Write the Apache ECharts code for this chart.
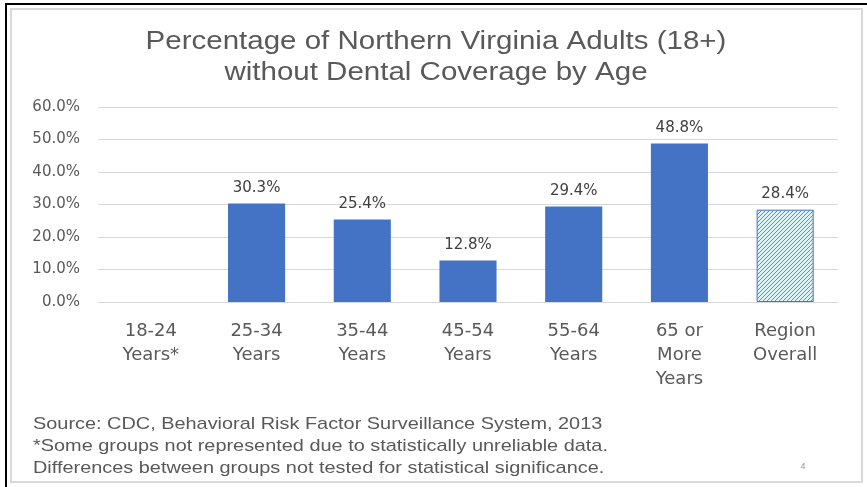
<!DOCTYPE html>
<html><head><meta charset="utf-8">
<script src="https://cdn.jsdelivr.net/npm/echarts@6/dist/echarts.min.js"></script>
<style>html,body{margin:0;padding:0;background:#fff;}#c{width:867px;height:487px;}</style>
</head><body><div id="c"></div>
<script>
const categories = ['18-24\nYears*', '25-34\nYears', '35-44\nYears', '45-54\nYears', '55-64\nYears', '65 or\nMore\nYears', 'Region\nOverall'];
const values = [null, 30.3, 25.4, 12.8, 29.4, 48.8, 28.4];
const hatchedIndex = 6;
const yTicks = [0, 10, 20, 30, 40, 50, 60];
const titleLines = ['Percentage of Northern Virginia Adults (18+)', 'without Dental Coverage by Age'];
const footnotes = ['Source: CDC, Behavioral Risk Factor Surveillance System, 2013', '*Some groups not represented due to statistically unreliable data.', 'Differences between groups not tested for statistical significance.'];

function hatch() {
  const c = document.createElement('canvas');
  c.width = 4; c.height = 4;
  const g = c.getContext('2d');
  g.fillStyle = '#dcf3f5'; g.fillRect(0, 0, 4, 4);
  g.strokeStyle = '#62808f'; g.lineWidth = 0.9;
  g.beginPath();
  g.moveTo(-1, 5); g.lineTo(5, -1);
  g.moveTo(-1, 1); g.lineTo(1, -1);
  g.moveTo(3, 5); g.lineTo(5, 3);
  g.stroke();
  return c;
}

const chart = echarts.init(document.getElementById('c'));
const data = values.map((v, i) => i === hatchedIndex ? {
  value: v,
  itemStyle: { color: { image: hatch(), repeat: 'repeat' }, borderColor: '#4472c4', borderWidth: 1 }
} : v);

chart.setOption({
  animation: false,
  grid: { left: 98, right: 29, top: 107, bottom: 185 },
  xAxis: {
    type: 'category', data: categories,
    axisLine: { lineStyle: { color: '#d9d9d9' } }, axisTick: { show: false },
    axisLabel: { fontFamily: 'DejaVu Sans', fontSize: 18, color: '#595959', lineHeight: 24, margin: 17, interval: 0 }
  },
  yAxis: {
    type: 'value', min: yTicks[0], max: yTicks[yTicks.length - 1], interval: 10,
    axisLine: { show: false }, axisTick: { show: false },
    splitLine: { lineStyle: { color: '#d9d9d9' } },
    axisLabel: { fontFamily: 'DejaVu Sans', fontSize: 15, color: '#595959', margin: 18, formatter: v => v.toFixed(1) + '%' }
  },
  series: [{
    type: 'bar', data: data, barWidth: '54%',
    itemStyle: { color: '#4472c4' },
    label: { show: true, position: 'top', distance: 8, fontFamily: 'DejaVu Sans', fontSize: 15, color: '#404040', formatter: p => p.value.toFixed(1) + '%' }
  }],
  graphic: [
    { type: 'rect', shape: { x: 11, y: 9, width: 851, height: 473 }, style: { fill: 'none', stroke: '#d9d9d9', lineWidth: 2 } },
    { type: 'rect', shape: { x: 5, y: 3, width: 2, height: 484 }, style: { fill: '#000' } },
    { type: 'rect', shape: { x: 5, y: 3, width: 862, height: 2 }, style: { fill: '#000' } },
    ...titleLines.map((t, i) => ({ type: 'text', x: 436, y: 42 + i * 31, scaleX: 1.18, style: { text: t, fontFamily: 'Liberation Sans', fontSize: 25, fill: '#595959', align: 'center', verticalAlign: 'middle' } })),
    ...footnotes.map((t, i) => ({ type: 'text', x: 33, y: 424 + i * 22, scaleX: 1.17, style: { text: t, fontFamily: 'Liberation Sans', fontSize: 17, fill: '#595959', align: 'left', verticalAlign: 'middle' } })),
    { type: 'text', x: 803, y: 467, style: { text: '4', fontFamily: 'Liberation Sans', fontSize: 9, fill: '#999', align: 'center', verticalAlign: 'middle' } }
  ]
});
</script></body></html>
